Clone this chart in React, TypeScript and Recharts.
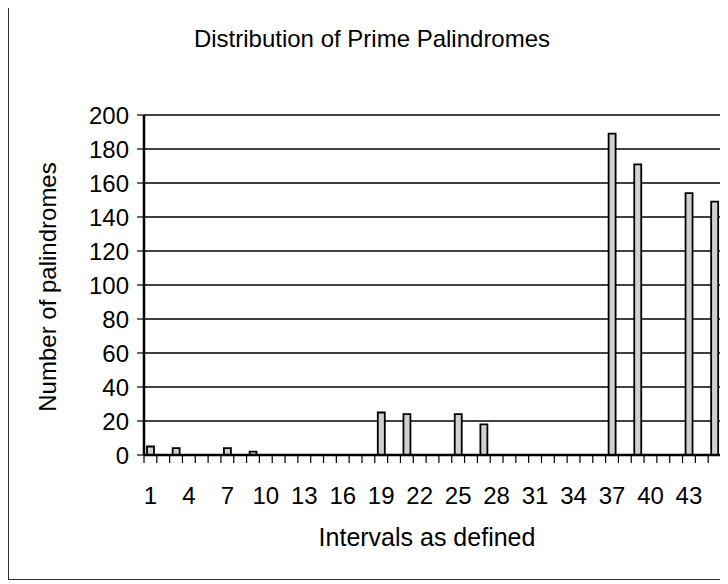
import React from 'react';
import { BarChart, Bar, XAxis, YAxis, CartesianGrid } from 'recharts';

const intervals = Array.from({ length: 45 }, (_, i) => i + 1);
const counts = [
  5, 0, 4, 0, 0, 0, 4, 0, 2, 0,
  0, 0, 0, 0, 0, 0, 0, 0, 25, 0,
  24, 0, 0, 0, 24, 0, 18, 0, 0, 0,
  0, 0, 0, 0, 0, 0, 189, 0, 171, 0,
  0, 0, 154, 0, 149,
];
const yTicks = [0, 20, 40, 60, 80, 100, 120, 140, 160, 180, 200];

const data = intervals.map((n, i) => ({ interval: n, count: counts[i] }));

const font = '"Liberation Sans", Arial, sans-serif';

const W = 720;
const H = 574;
const margin = { top: 110, right: 8, bottom: 0, left: 65 };
const yAxisWidth = 70;
const band = (W - margin.left - yAxisWidth - margin.right) / intervals.length;

function XTick(props: any) {
  const { x, y, payload, index } = props;
  const last = index === intervals.length - 1;
  return (
    <g>
      <line x1={x - band / 2} x2={x - band / 2} y1={y} y2={y + 8} stroke="#000" strokeWidth={1.2} />
      {last && <line x1={x + band / 2} x2={x + band / 2} y1={y} y2={y + 8} stroke="#000" strokeWidth={1.2} />}
      {index % 3 === 0 && (
        <text x={x} y={y + 49} textAnchor="middle" fill="#000" fontSize={24} fontFamily={font}>
          {payload.value}
        </text>
      )}
    </g>
  );
}

export default function App() {
  return (
    <div style={{ position: 'relative', width: W, height: H, marginTop: -4, borderLeft: '1px solid #333', borderTop: '1px solid #333', borderBottom: '1px solid #333', background: '#fff', fontFamily: font, lineHeight: 1 }}>
      <div style={{ position: 'absolute', left: 0, width: 726, top: 22, textAlign: 'center', fontSize: 24, color: '#000', whiteSpace: 'nowrap' }}>
        Distribution of Prime Palindromes
      </div>
      <div style={{ position: 'absolute', left: 39, top: 282, transform: 'translate(-50%, -50%) rotate(-90deg)', whiteSpace: 'nowrap', fontSize: 24, color: '#000' }}>
        Number of palindromes
      </div>
      <div style={{ position: 'absolute', left: 0, width: 836, top: 520, textAlign: 'center', fontSize: 25, color: '#000', whiteSpace: 'nowrap' }}>
        Intervals as defined
      </div>
      <div style={{ position: 'absolute', left: 0, top: 0 }}>
        <BarChart width={W} height={H} data={data} margin={margin}>
          <CartesianGrid vertical={false} stroke="#000" strokeWidth={1.4} />
          <XAxis
            dataKey="interval"
            interval={0}
            tick={<XTick />}
            tickLine={false}
            tickSize={0}
            tickMargin={0}
            axisLine={{ stroke: '#000', strokeWidth: 2.5 }}
            height={124}
          />
          <YAxis
            domain={[0, 200]}
            ticks={yTicks}
            width={yAxisWidth}
            interval={0}
            tick={{ fill: '#000', fontSize: 24, fontFamily: font }}
            tickLine={{ stroke: '#000', strokeWidth: 1.2 }}
            tickSize={7}
            tickMargin={8}
            axisLine={{ stroke: '#000', strokeWidth: 2.5 }}
          />
          <YAxis yAxisId="right" orientation="right" width={0} tick={false} tickLine={false} axisLine={{ stroke: '#000', strokeWidth: 2 }} />
          <Bar dataKey="count" fill="#d0d0d0" stroke="#000" strokeWidth={1.8} barSize={7} isAnimationActive={false} />
        </BarChart>
      </div>
    </div>
  );
}
